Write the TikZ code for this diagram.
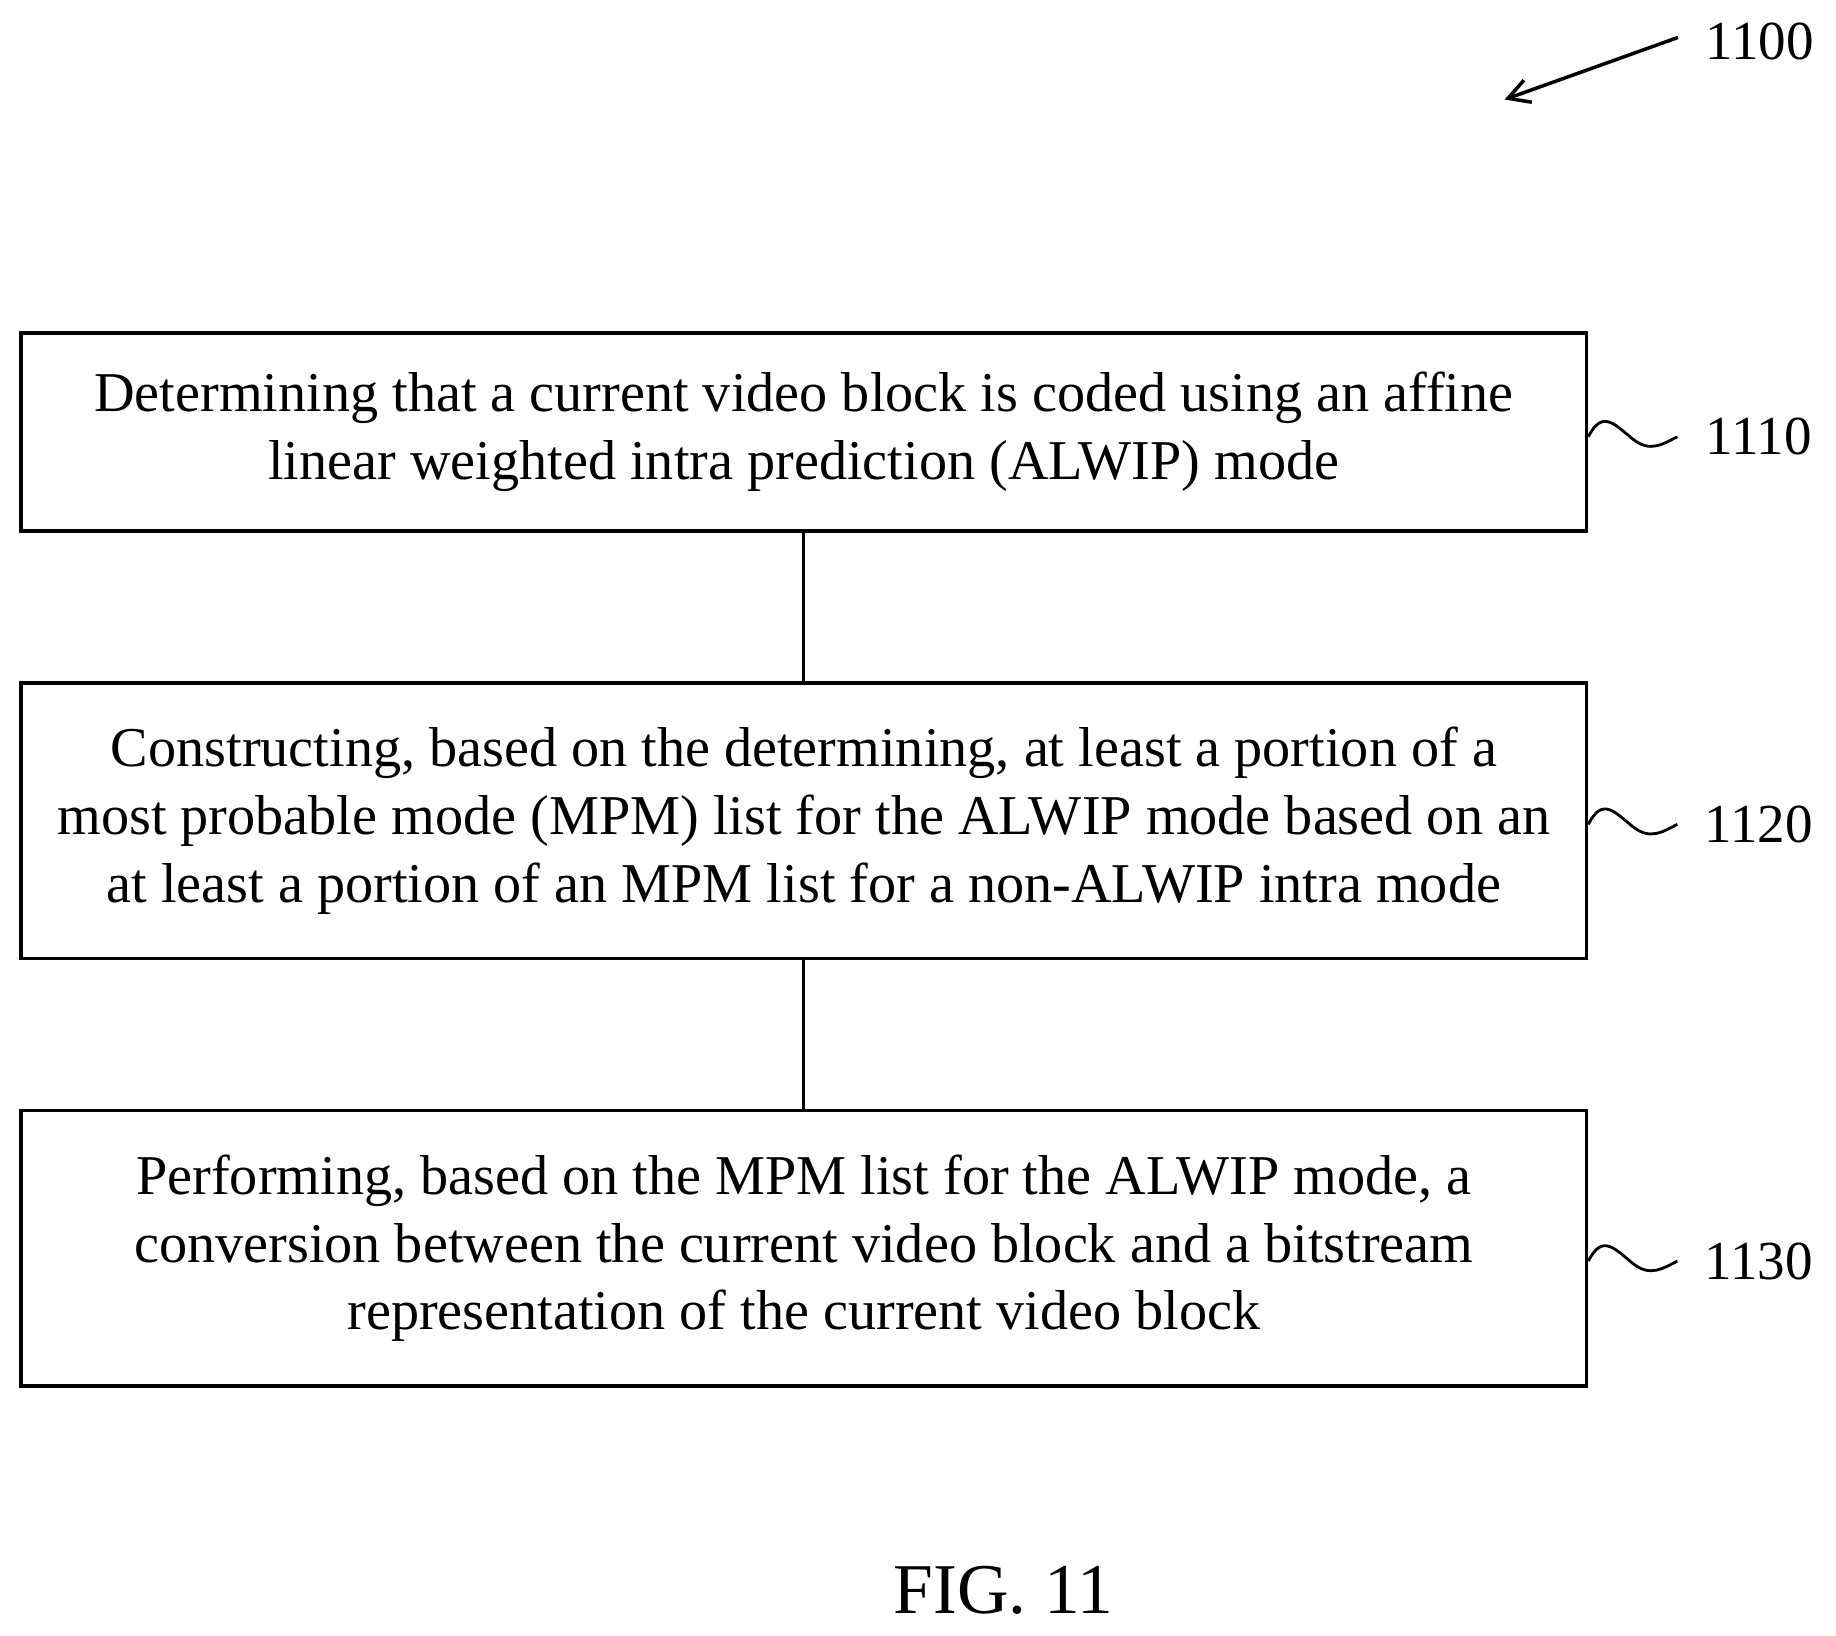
\documentclass[tikz,border=0pt]{standalone}
\usepackage{fontspec}
\usetikzlibrary{arrows.meta}
\setmainfont{Liberation Serif}
\begin{document}
\begin{tikzpicture}[x=0.5pt,y=-0.5pt,
  box/.style={draw,line width=1.5pt,minimum width=668.5pt,align=center,font=\fontsize{24}{29}\selectfont,inner sep=0pt},
  lbl/.style={font=\fontsize{23.5}{26}\selectfont},
  wav/.style={line width=1.2pt}]
\useasboundingbox (0,0) rectangle (1568,1397);
\node[box,minimum height=84.5pt] (b1) at (686.5,369) {Determining that a current video block is coded using an affine\\linear weighted intra prediction (ALWIP) mode};
\node[box,minimum height=117.5pt] (b2) at (686.5,701) {Constructing, based on the determining, at least a portion of a\\most probable mode (MPM) list for the ALWIP mode based on an\\at least a portion of an MPM list for a non-ALWIP intra mode};
\node[box,minimum height=117.5pt] (b3) at (686.5,1066) {Performing, based on the MPM list for the ALWIP mode, a\\conversion between the current video block and a bitstream\\representation of the current video block};
\draw[line width=1.2pt] (b1.south) -- (b2.north);
\draw[line width=1.2pt] (b2.south) -- (b3.north);
\node[lbl] (l1) at (1502,373) {1110};
\node[lbl] (l2) at (1502,704) {1120};
\node[lbl] (l3) at (1502,1077) {1130};
\foreach \b/\l in {b1/l1,b2/l2,b3/l3}{
  \coordinate (s) at (\b.east |- \l);
  \draw[wav] (s) .. controls +(12,-24) and +(-15,-12) .. +(38,2) .. controls +(15,12) and +(-12,6) .. +(76,0);
}
\node[lbl] (l0) at (1503,35) {1100};
\coordinate (a0) at (1285,85);
\draw[line width=1.5pt,-{Straight Barb[length=9pt,width=10pt]}] (1433,32) -- (a0);
\node[font=\fontsize{30.5}{34}\selectfont] (fig) at (857,1358) {FIG. 11};
\end{tikzpicture}
\end{document}
